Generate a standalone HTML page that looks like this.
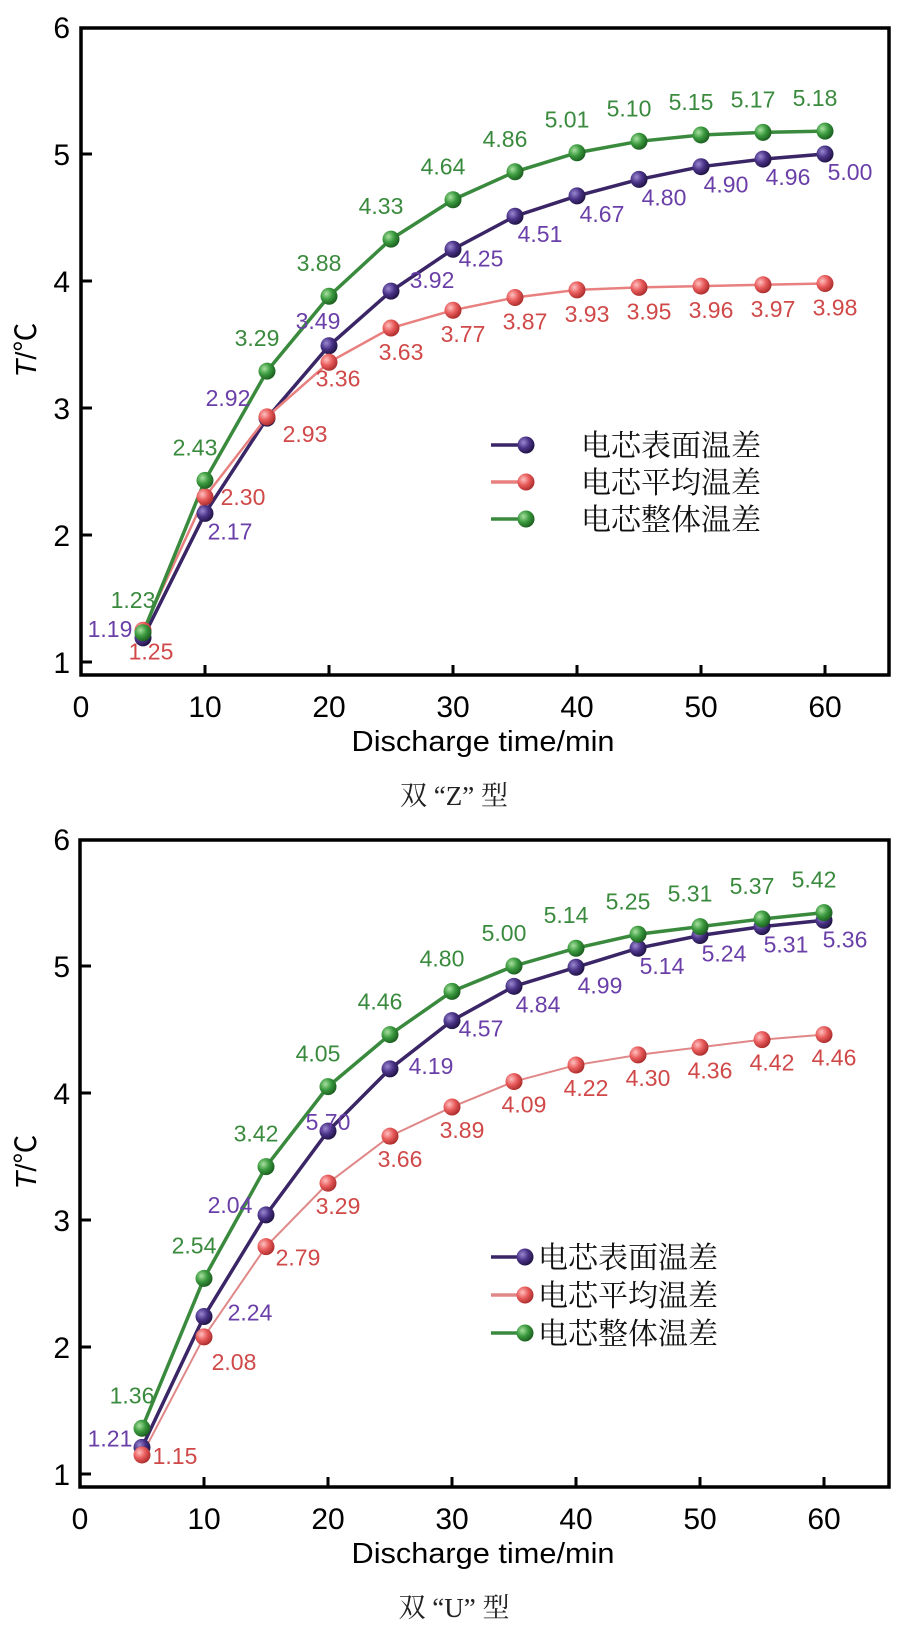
<!DOCTYPE html>
<html><head><meta charset="utf-8">
<style>
html,body{margin:0;padding:0;background:#fff;}
svg{display:block;font-family:"Liberation Sans",Arial,"Noto Sans CJK SC",sans-serif;}
</style></head>
<body>
<svg id="fig" width="902" height="1640" viewBox="0 0 902 1640" xmlns="http://www.w3.org/2000/svg">
<defs>
<radialGradient id="gP" cx="35%" cy="35%" r="70%"><stop offset="0" stop-color="#9a88d0"/><stop offset="0.5" stop-color="#4a3388"/><stop offset="1" stop-color="#1e1240"/></radialGradient>
<radialGradient id="gR" cx="35%" cy="35%" r="70%"><stop offset="0" stop-color="#ffc0c0"/><stop offset="0.5" stop-color="#e85a5a"/><stop offset="1" stop-color="#a82a2a"/></radialGradient>
<radialGradient id="gG" cx="35%" cy="35%" r="70%"><stop offset="0" stop-color="#a8e0a0"/><stop offset="0.5" stop-color="#3a9a3e"/><stop offset="1" stop-color="#1a5a1e"/></radialGradient>
</defs>
</svg>
<script>
const times = [5,10,15,20,25,30,35,40,45,50,55,60];
const zPurple = [1.19,2.17,2.92,3.49,3.92,4.25,4.51,4.67,4.80,4.90,4.96,5.00];
const zRed = [1.25,2.30,2.93,3.36,3.63,3.77,3.87,3.93,3.95,3.96,3.97,3.98];
const zGreen = [1.23,2.43,3.29,3.88,4.33,4.64,4.86,5.01,5.10,5.15,5.17,5.18];
const uPurple = [1.21,2.24,3.04,3.70,4.19,4.57,4.84,4.99,5.14,5.24,5.31,5.36];
const uPurpleText = ["1.21","2.24","2.04","5.70","4.19","4.57","4.84","4.99","5.14","5.24","5.31","5.36"];
const uRed = [1.15,2.08,2.79,3.29,3.66,3.89,4.09,4.22,4.30,4.36,4.42,4.46];
const uGreen = [1.36,2.54,3.42,4.05,4.46,4.80,5.00,5.14,5.25,5.31,5.37,5.42];
const xTicks = [0,10,20,30,40,50,60];
const yTicks = [1,2,3,4,5,6];
const legendNames = ["电芯表面温差","电芯平均温差","电芯整体温差"];

const NS="http://www.w3.org/2000/svg";
const svg=document.getElementById('fig');
function mk(tag,attrs,parent){const e=document.createElementNS(NS,tag);for(const k in attrs)e.setAttribute(k,attrs[k]);(parent||svg).appendChild(e);return e;}

function fmt(v){return v.toFixed(2);}

function drawChart(cfg){
  const g=mk('g',{});
  
  
  const X=t=>cfg.x0+t*12.4;
  const Y=v=>cfg.y6+(6-v)*127;
  const fr=mk('rect',{x:cfg.x0,y:cfg.top,width:889-cfg.x0,height:cfg.bottom-cfg.top,fill:'none',stroke:'#000','stroke-width':3.5},g);
  
  
  xTicks.forEach(t=>{
    const l=mk('line',{x1:X(t),x2:X(t),y1:cfg.bottom,y2:cfg.bottom-10,stroke:'#000','stroke-width':3},g);
    
    
    const tx=mk('text',{x:X(t),y:cfg.bottom+42,'font-size':30,'text-anchor':'middle',fill:'#000'},g);
    tx.textContent=t;
    
    
  });
  yTicks.forEach(v=>{
    if(v<6){const l=mk('line',{x1:cfg.x0,x2:cfg.x0+11,y1:Y(v),y2:Y(v),stroke:'#000','stroke-width':3},g);
    
    }
    const tx=mk('text',{x:70,y:Y(v)+11,'font-size':30,'text-anchor':'end',fill:'#000'},g);
    tx.textContent=v;
    
    
  });
  const xt=mk('text',{x:483,y:cfg.bottom+76,'font-size':29,'text-anchor':'middle',textLength:263,lengthAdjust:'spacingAndGlyphs',fill:'#000'},g);
  xt.textContent='Discharge time/min';
  
  
  const yt=mk('text',{x:0,y:0,'font-size':29,'text-anchor':'middle',fill:'#000',transform:`translate(36,${cfg.top+322}) rotate(-90)`},g);
  yt.innerHTML='<tspan font-style="italic">T</tspan>/℃';
  
  
  const cap=mk('text',{x:454,y:cfg.bottom+130,'font-size':27,'text-anchor':'middle',fill:'#222','font-family':'"Liberation Serif","Noto Serif CJK SC",serif'},g);
  cap.textContent=cfg.caption;
  
  

  cfg.series.forEach(s=>{
    const pts=times.map((t,i)=>X(t)+','+Y(s.vals[i])).join(' ');
    const pl=mk('polyline',{points:pts,fill:'none',stroke:s.line,'stroke-width':s.w},g);
    
    
  });
  cfg.series.forEach(s=>{
    times.forEach((t,i)=>{
      const c=mk('circle',{cx:X(t),cy:Y(s.vals[i]),r:8.5,fill:s.grad},g);
      
      
      const o=(s.over&&s.over[i])||s.off;
      const tx=mk('text',{x:X(t)+o[0],y:Y(s.vals[i])+o[1]+8,'font-size':23,'text-anchor':'middle',fill:s.txt},g);
      tx.textContent=s.texts?s.texts[i]:fmt(s.vals[i]);
      
      
    });
  });
  const lg=mk('g',{},g);
  
  
  [cfg.series[0],cfg.series[1],cfg.series[2]].forEach((s,i)=>{
    const y=cfg.legY+i*cfg.legGap;
    const e=mk('g',{},lg);
    
    
    mk('line',{x1:491,x2:cfg.legM,y1:y,y2:y,stroke:s.line,'stroke-width':3.5},e);
    mk('circle',{cx:cfg.legM,cy:y,r:8.5,fill:s.grad},e);
    const tx=mk('text',{x:cfg.legT,y:y+11,'font-size':30,fill:'#111','font-family':'"Liberation Serif","Noto Serif CJK SC",serif'},e);
    tx.textContent=legendNames[i];
  });
}

drawChart({name:'chart-double-z',x0:81,y6:27,top:28,bottom:675,caption:'双 “Z” 型',legY:445,legGap:37,legM:526,legT:581,
 series:[
  {key:'surface',vals:zPurple,line:'#3a2566',grad:'url(#gP)',txt:'#6a3fa8',w:3.5,off:[25,18],
   over:{0:[-33,-9],2:[-39,-20],3:[-11,-25],4:[41,-11],5:[28,9]}},
  {key:'average',vals:zRed,line:'#e88080',grad:'url(#gR)',txt:'#d04848',w:2.5,off:[10,24],
   over:{0:[8,21],1:[38,0],2:[38,17],3:[9,16]}},
  {key:'overall',vals:zGreen,line:'#3a8a3e',grad:'url(#gG)',txt:'#3a8a3e',w:3.5,off:[-10,-33]}
 ]});

drawChart({name:'chart-double-u',x0:80,y6:839,top:840,bottom:1487,caption:'双 “U” 型',legY:1257,legGap:38,legM:525,legT:538,
 series:[
  {key:'surface',vals:uPurple,texts:uPurpleText,line:'#3a2566',grad:'url(#gP)',txt:'#6a3fa8',w:3.5,off:[24,18],
   over:{0:[-32,-9],1:[46,-4],2:[-36,-10],3:[0,-9],4:[41,-3],5:[29,8],11:[21,19]}},
  {key:'average',vals:uRed,line:'#e08888',grad:'url(#gR)',txt:'#d04848',w:2,off:[10,23],
   over:{0:[33,1],1:[30,25],2:[32,11]}},
  {key:'overall',vals:uGreen,line:'#3a8a3e',grad:'url(#gG)',txt:'#3a8a3e',w:3.5,off:[-10,-33]}
 ]});
</script>
</body></html>
